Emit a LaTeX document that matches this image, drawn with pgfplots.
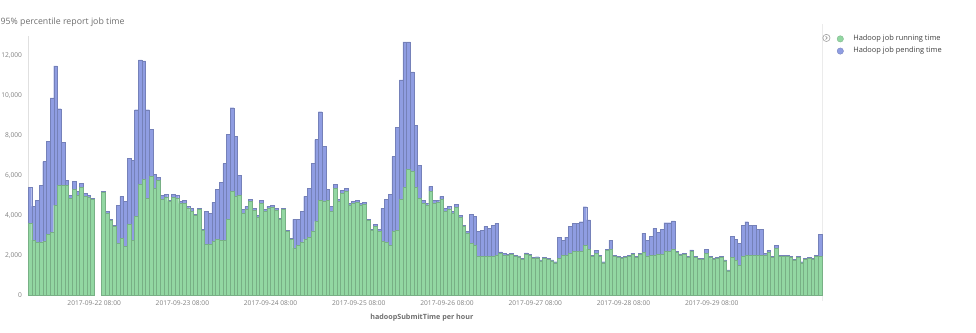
\documentclass[border=0pt]{standalone}
\usepackage{fontspec}
\setmainfont{Open Sans}
\usepackage{pgfplots}
\usepackage{pgfplotstable}
\pgfplotsset{compat=1.18}
\definecolor{runc}{HTML}{92D7A2}
\definecolor{pendc}{HTML}{8F9DE2}
\definecolor{tickc}{HTML}{808080}
\definecolor{labc}{HTML}{6E6E6E}

\pgfplotstableread{
i run pend
0 3600 1800
1 2750 1700
2 2650 2100
3 2650 2850
4 2700 4000
5 3050 4650
6 3150 6750
7 4500 7000
8 5500 3850
9 5500 2150
10 5500 250
11 4850 150
12 5300 400
13 5000 200
14 5400 200
15 4950 150
16 4900 100
17 4800 50
20 5150 50
21 4100 100
22 3750 50
23 3450 50
24 2600 1900
25 2850 2100
26 2450 2250
27 3550 3300
28 2750 4000
29 3950 5350
30 5550 6250
31 5800 5950
32 4850 4450
33 5950 2350
34 5350 700
35 5750 150
36 4800 200
37 4900 150
38 4700 50
39 4900 150
40 4850 150
41 4600 100
42 4600 150
43 4350 100
44 4200 150
45 4000 50
46 4300 50
47 3250 50
48 2550 1650
49 2550 1550
50 2700 1950
51 2800 2500
52 2750 2900
53 2750 3850
54 3800 4250
55 5200 4200
56 4950 3000
57 5000 1000
58 4100 200
59 4300 150
60 4700 100
61 4250 100
62 3900 100
63 4600 150
64 4200 100
65 4350 100
66 4400 100
67 4250 100
68 3800 50
69 4300 50
70 3200 50
71 2800 50
72 2350 1450
73 2500 1300
74 2650 1550
75 2800 2150
76 2900 2450
77 3200 3400
78 3700 4100
79 4750 4450
80 4700 2750
81 4750 550
82 4200 250
83 5350 200
84 4700 100
85 5100 150
86 5200 150
87 4500 100
88 4600 100
89 4650 100
90 4500 100
91 4550 100
92 3750 50
93 3250 50
94 3450 100
95 3200 100
96 2700 1650
97 2650 2150
98 2500 2550
99 3200 3750
100 3250 5150
101 4800 6000
102 5400 7300
103 6300 6400
104 6200 5000
105 5400 3100
106 4850 1650
107 4600 150
108 4500 100
109 5200 250
110 4600 150
111 4650 100
112 4800 150
113 4200 150
114 4300 150
115 4100 100
116 4400 150
117 3900 100
118 3450 50
119 3100 100
120 2600 1450
121 2500 1450
122 1950 1250
123 1950 1300
124 1950 1500
125 1950 1400
126 1950 1550
127 2000 1600
128 2100 70
129 2000 90
130 2000 40
131 2050 50
132 1950 50
133 1920 50
134 1800 40
135 2050 70
136 2000 50
137 1850 50
138 1870 50
139 1720 40
140 1830 50
141 1800 40
142 1720 40
143 1620 50
144 1840 1060
145 2000 760
146 2000 900
147 2100 1360
148 2200 1400
149 2200 1400
150 2200 1480
151 2500 1930
152 2300 1470
153 1950 50
154 2100 150
155 1950 50
156 1620 50
157 2250 50
158 2300 450
159 1950 50
160 1900 50
161 1850 50
162 1900 50
163 1950 50
164 2050 50
165 1900 50
166 2050 50
167 2150 950
168 1950 810
169 2000 930
170 2000 1350
171 2050 1100
172 2050 1250
173 2200 1430
174 2200 1430
175 2300 1420
176 2130 50
177 2010 50
178 2050 50
179 1880 50
180 2200 60
181 1880 50
182 1800 40
183 1800 40
184 2100 190
185 1880 50
186 1800 40
187 1830 50
188 1880 50
189 1720 40
190 1220 40
191 1900 1060
192 1750 1050
193 1500 1100
194 1950 1550
195 2000 1680
196 2000 1500
197 2000 1500
198 2000 1300
199 2000 1300
200 2000 90
201 2150 80
202 1900 50
203 2350 150
204 1930 50
205 1950 50
206 1950 50
207 1900 50
208 1750 50
209 1900 50
210 1620 50
211 1800 40
212 1850 50
213 1800 50
214 1950 50
215 1930 1120
}\datatable

\begin{document}
\begin{tikzpicture}
\path[use as bounding box] (0,0) rectangle (732bp,249.75bp);
\node[anchor=west, inner sep=0pt, font=\fontsize{6.6}{8}\selectfont, text=labc] at (0.3bp,233.3bp) {95\% percentile report job time};
\draw[black!8, line width=0.5pt] (616.8bp,24bp) -- (616.8bp,232bp);
\begin{axis}[
  at={(21bp,28.5bp)}, anchor=south west,
  scale only axis, width=595.5bp, height=194.25bp,
  xmin=0, xmax=216, ymin=0, ymax=13000,
  ybar stacked, bar width=1,
  axis y line*=left, axis x line*=bottom,
  x axis line style={draw=none},
  y axis line style={draw=black!12, line width=0.6pt, -},
  ytick={0,2000,4000,6000,8000,10000,12000},
  scaled y ticks=false,
  xtick={18,42,66,90,114,138,162,186},
  xticklabels={2017-09-22 08:00,2017-09-23 08:00,2017-09-24 08:00,2017-09-25 08:00,2017-09-26 08:00,2017-09-27 08:00,2017-09-28 08:00,2017-09-29 08:00},
  major tick length=0pt,
  tick label style={font=\fontsize{5}{6}\selectfont, text=tickc},
  yticklabel style={/pgf/number format/1000 sep={,}, xshift=-1bp},
  xticklabel style={yshift=-1bp},
  /pgf/number format/assume math mode=true,
  xlabel={hadoopSubmitTime per hour},
  xlabel style={at={(axis description cs:0.496,0)}, anchor=center, yshift=-17.25bp, font=\bfseries\fontsize{5.4}{6}\selectfont, text=labc},
  legend style={at={(1,1)}, anchor=north west, xshift=11bp, yshift=1.5bp, draw=none, fill=none, inner sep=0pt, font=\fontsize{5.6}{7}\selectfont, text=black!75, row sep=2.2bp, nodes={inner sep=0.6bp}},
  legend cell align=left,
  legend image code/.code={\path (-2.4bp,0bp) (9bp,0bp); \fill[#1] (0bp,0bp) circle (2.4bp);},
  clip=false,
]
\addplot[fill=runc, draw=runc!82!black, line width=0.25pt] table[x expr=\thisrow{i}+0.5, y=run] {\datatable};
\addlegendentry{Hadoop job running time}
\addplot[fill=pendc, draw=pendc!82!black, line width=0.25pt] table[x expr=\thisrow{i}+0.5, y=pend] {\datatable};
\addlegendentry{Hadoop job pending time}
\end{axis}
\draw[black!35, line width=0.5pt] (619.8bp,221.3bp) circle (2.7bp);
\draw[black!40, line width=0.5pt] (619.2bp,222.5bp) -- (620.4bp,221.3bp) -- (619.2bp,220.1bp);
\end{tikzpicture}
\end{document}
